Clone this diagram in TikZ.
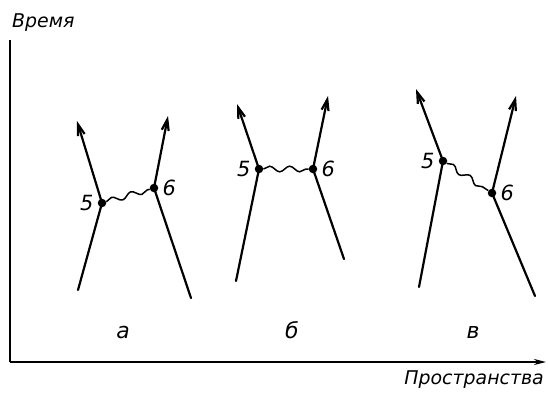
\documentclass[tikz,border=0pt]{standalone}
\usepackage{fontspec}
\setmainfont{DejaVu Sans}
\usepackage{tikz}
\usetikzlibrary{arrows.meta,positioning,decorations.pathmorphing}

\begin{document}
\begin{tikzpicture}[
  x=1bp,y=-1bp,
  node distance=3bp,
  wl/.style={line width=2.2bp,line cap=round},
  wlarr/.style={wl,-{Straight Barb[length=11bp,width=7bp]}},
  vtx/.style={circle,fill=black,inner sep=0pt,minimum size=8.5bp},
  wave/.style={line width=1.5bp,decorate,decoration={snake,amplitude=2.8bp,segment length=20bp}},
  num/.style={font=\fontsize{21}{24}\selectfont\itshape,inner sep=1bp},
  lbl/.style={font=\fontsize{19}{22}\selectfont\itshape,inner sep=0pt},
  sublbl/.style={font=\fontsize{22}{24}\selectfont\itshape,inner sep=0pt},
  axis/.style={line width=2.2bp}
]
  \useasboundingbox (0,0) rectangle (548,393);

  % axes
  \coordinate (O) at (10,362);
  \coordinate (ytop) at (10,40);
  \coordinate (xend) at (546,362);
  \draw[axis] (ytop) -- (O);
  \draw[axis,-{Stealth[length=12bp,width=6bp]}] (O) -- (xend);
  \node[lbl,anchor=base west] (tlab) at (12,27) {Время};
  \node[lbl,anchor=base east] (xlab) at (544,384) {Пространства};

  % a
  \coordinate (a1) at (78,290);
  \coordinate (a1t) at (77,121);
  \coordinate (a2) at (191,298);
  \coordinate (a2t) at (168,116);
  \node[vtx] (a5) at (102,203) {};
  \node[vtx] (a6) at (154,188) {};
  \draw[wlarr] (a1) -- (a5.center) -- (a1t);
  \draw[wlarr] (a2) -- (a6.center) -- (a2t);
  \draw[wave] (a5) -- (a6);
  \node[num,left=of a5] (a5l) {5};
  \node[num,right=of a6] (a6l) {6};
  \node[sublbl,anchor=base] (acap) at (123,338) {а};

  % b
  \coordinate (b1) at (236,281);
  \coordinate (b1t) at (237,104);
  \coordinate (b2) at (344,259);
  \coordinate (b2t) at (328,96);
  \node[vtx] (b5) at (259,169) {};
  \node[vtx] (b6) at (313,169) {};
  \draw[wlarr] (b1) -- (b5.center) -- (b1t);
  \draw[wlarr] (b2) -- (b6.center) -- (b2t);
  \draw[wave] (b5) -- (b6);
  \node[num,left=of b5] (b5l) {5};
  \node[num,right=of b6] (b6l) {6};
  \node[sublbl,anchor=base] (bcap) at (292,338) {б};

  % c
  \coordinate (c1) at (419,287);
  \coordinate (c1t) at (416,89);
  \coordinate (c2) at (535,296);
  \coordinate (c2t) at (516,96);
  \node[vtx] (c5) at (443,161) {};
  \node[vtx] (c6) at (492,193) {};
  \draw[wlarr] (c1) -- (c5.center) -- (c1t);
  \draw[wlarr] (c2) -- (c6.center) -- (c2t);
  \draw[wave] (c5) -- (c6);
  \node[num,left=of c5] (c5l) {5};
  \node[num,right=of c6] (c6l) {6};
  \node[sublbl,anchor=base] (ccap) at (473,338) {в};
\end{tikzpicture}
\end{document}
